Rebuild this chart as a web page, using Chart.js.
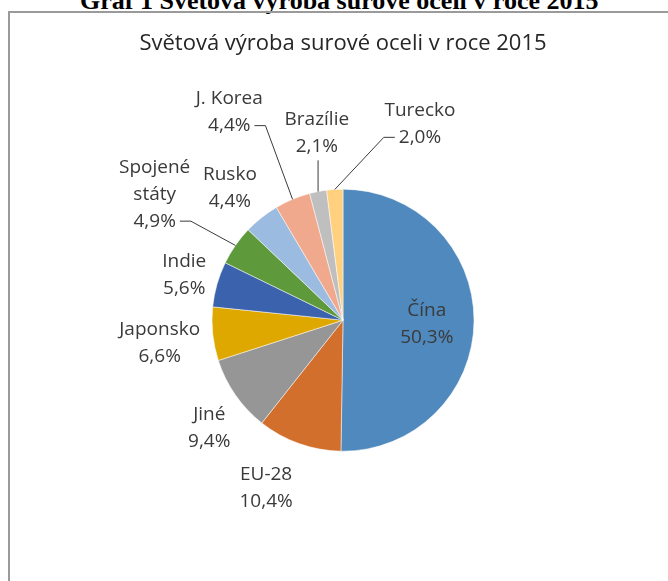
<!DOCTYPE html>
<html lang="cs">
<head>
<meta charset="utf-8">
<title>Světová výroba surové oceli v roce 2015</title>
<script src="https://cdn.jsdelivr.net/npm/chart.js@4.4.1/dist/chart.umd.min.js"></script>
<style>
    html, body {
        margin: 0;
        padding: 0;
        background: #ffffff;
        overflow: hidden;
    }
    #page {
        position: relative;
        width: 668px;
        height: 581px;
        overflow: hidden;
    }
    #caption {
        position: absolute;
        left: 80px;
        top: -12px;
        font: bold 26px "Liberation Serif", "Times New Roman", serif;
        line-height: 26px;
        color: #000000;
        white-space: nowrap;
    }
    #frame {
        position: absolute;
        left: 8px;
        top: 11px;
        width: 700px;
        height: 700px;
        border: 2px solid #9a9a9a;
    }
    #steelChart {
        position: absolute;
        left: 0;
        top: 0;
    }
</style>
</head>
<body>
<div id="page">
    <div id="caption">Graf 1 Světová výroba surové oceli v roce 2015</div>
    <div id="frame"></div>
    <canvas id="steelChart" width="668" height="581"></canvas>
</div>
<script>
// Data: share of world crude steel production 2015 (%)
const chartTitle = 'Světová výroba surové oceli v roce 2015';
const producers = ['Čína', 'EU-28', 'Jiné', 'Japonsko', 'Indie', 'Spojené státy', 'Rusko', 'J. Korea', 'Brazílie', 'Turecko'];
const shares = [50.3, 10.4, 9.4, 6.6, 5.6, 4.9, 4.4, 4.4, 2.1, 2.0];

const sliceColors = [
    '#4f89bd', '#d36f2c', '#969696', '#dea800', '#3b62ad',
    '#5e9a3c', '#9bbbe0', '#f1a98e', '#bfbfbf', '#ffd17f'
];

// label placement, relative to each slice: dist = multiple of radius, shift = degrees off the slice middle
const labelPlaces = [
    { dist: 0.64, shift: 2 },
    { dist: 1.41, shift: 5 },
    { dist: 1.31, shift: -4 },
    { dist: 1.41, shift: -1 },
    { dist: 1.26, shift: 0 },
    { dist: 1.73, shift: -1, wrap: true, leader: 'right' },
    { dist: 1.33, shift: -2 },
    { dist: 1.81, shift: -6, leader: 'right' },
    { dist: 1.44, shift: 3, leader: 'down' },
    { dist: 1.61, shift: 25, leader: 'left' }
];

const LABEL_FONT = '19px "Open Sans", sans-serif';
const LABEL_COLOR = '#3a3a3a';
const LINE_HEIGHT = 27;

function formatShare(value) {
    return value.toFixed(1).replace('.', ',') + '%';
}

const sliceLabels = {
    id: 'sliceLabels',
    afterDatasetsDraw(chart) {
        const ctx = chart.ctx;
        const meta = chart.getDatasetMeta(0);

        ctx.save();
        ctx.font = LABEL_FONT;
        ctx.textAlign = 'center';
        ctx.textBaseline = 'middle';
        ctx.fillStyle = LABEL_COLOR;
        ctx.strokeStyle = LABEL_COLOR;
        ctx.lineWidth = 1;

        meta.data.forEach((arc, i) => {
            const p = arc.getProps(['x', 'y', 'startAngle', 'endAngle', 'outerRadius'], true);
            const place = labelPlaces[i];
            const mid = (p.startAngle + p.endAngle) / 2;
            const a = mid + place.shift * Math.PI / 180;
            const cx = p.x + Math.cos(a) * p.outerRadius * place.dist;
            const cy = p.y + Math.sin(a) * p.outerRadius * place.dist;

            const lines = place.wrap ? producers[i].split(' ') : [producers[i]];
            lines.push(formatShare(shares[i]));

            const firstY = cy - (lines.length - 1) * LINE_HEIGHT / 2;
            lines.forEach((line, k) => {
                ctx.fillText(line, cx, firstY + k * LINE_HEIGHT);
            });

            if (!place.leader) return;

            // leader line from the label to the edge of its slice
            const edgeX = p.x + Math.cos(mid) * p.outerRadius;
            const edgeY = p.y + Math.sin(mid) * p.outerRadius;
            const lastY = firstY + (lines.length - 1) * LINE_HEIGHT;
            const lastW = ctx.measureText(lines[lines.length - 1]).width;

            ctx.beginPath();
            if (place.leader === 'right') {
                const sx = cx + lastW / 2 + 4;
                ctx.moveTo(sx, lastY);
                ctx.lineTo(sx + 11, lastY);
                ctx.lineTo(edgeX, edgeY);
            } else if (place.leader === 'left') {
                const sx = cx - lastW / 2 - 4;
                ctx.moveTo(sx, lastY);
                ctx.lineTo(sx - 11, lastY);
                ctx.lineTo(edgeX, edgeY);
            } else {
                ctx.moveTo(edgeX, lastY + LINE_HEIGHT / 2);
                ctx.lineTo(edgeX, edgeY);
            }
            ctx.stroke();
        });

        ctx.restore();
    }
};

const ctx = document.getElementById('steelChart').getContext('2d');

new Chart(ctx, {
    type: 'pie',
    data: {
        labels: producers,
        datasets: [{
            data: shares,
            backgroundColor: sliceColors,
            borderColor: 'rgba(255, 255, 255, 0.5)',
            borderWidth: 1,
            hoverOffset: 0,
            radius: 131
        }]
    },
    options: {
        responsive: false,
        animation: false,
        devicePixelRatio: 1,
        layout: {
            padding: { left: 18, right: 0, top: 18, bottom: 8 }
        },
        plugins: {
            legend: { display: false },
            tooltip: { enabled: false },
            title: {
                display: true,
                text: chartTitle,
                color: '#262626',
                font: { family: '"Open Sans", sans-serif', size: 22, weight: 'normal' },
                padding: { top: 13, bottom: 10 }
            }
        }
    },
    plugins: [sliceLabels]
});
</script>
</body>
</html>
